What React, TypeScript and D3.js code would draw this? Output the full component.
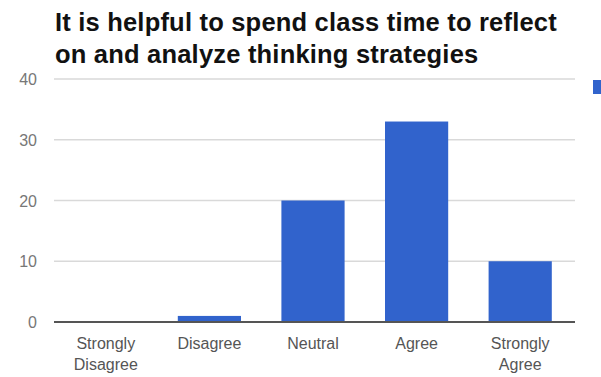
import React from "react";
import * as d3 from "d3";

const categories = [["Strongly", "Disagree"], ["Disagree"], ["Neutral"], ["Agree"], ["Strongly", "Agree"]];
const values = [0, 1, 20, 33, 10];
const yTicks = [0, 10, 20, 30, 40];
const titleLines = ["It is helpful to spend class time to reflect", "on and analyze thinking strategies"];

export default function App() {
  const W = 601, H = 377;
  const x = d3.scaleBand<number>().domain(d3.range(values.length)).range([54, 572]).paddingInner(0.39).paddingOuter(0.195);
  const y = d3.scaleLinear().domain([0, 40]).range([322, 79]);
  const color = "#3163cc";
  return (
    <svg width={W} height={H} style={{ position: "absolute", left: 0, top: 0, background: "#fff" }}>
      {titleLines.map((t, i) => (
        <text key={i} x={55} y={31 + i * 32} fontFamily="Liberation Sans, Arial, sans-serif" fontWeight="bold" fontSize={25.5} letterSpacing={0.2} fill="#111">{t}</text>
      ))}
      {yTicks.filter(v => v > 0).map(v => (
        <line key={v} x1={54} x2={575} y1={y(v)} y2={y(v)} stroke="#d9d9d9" strokeWidth={1.5} />
      ))}
      {yTicks.map(v => (
        <text key={v} x={37} y={y(v) + 6} textAnchor="end" fontFamily="Liberation Sans, Arial, sans-serif" fontSize={16} fill="#777">{v}</text>
      ))}
      {values.map((v, i) => (
        <rect key={i} x={x(i)} y={y(v)} width={x.bandwidth()} height={y(0) - y(v)} fill={color} />
      ))}
      <line x1={54} x2={575} y1={y(0)} y2={y(0)} stroke="#555" strokeWidth={2} />
      {categories.map((lines, i) => (
        <text key={i} textAnchor="middle" fontFamily="Liberation Sans, Arial, sans-serif" fontSize={16} fill="#555">
          {lines.map((l, j) => (
            <tspan key={j} x={(x(i) as number) + x.bandwidth() / 2} y={349 + j * 21}>{l}</tspan>
          ))}
        </text>
      ))}
      <rect x={593} y={80} width={12} height={14} fill={color} />
    </svg>
  );
}
